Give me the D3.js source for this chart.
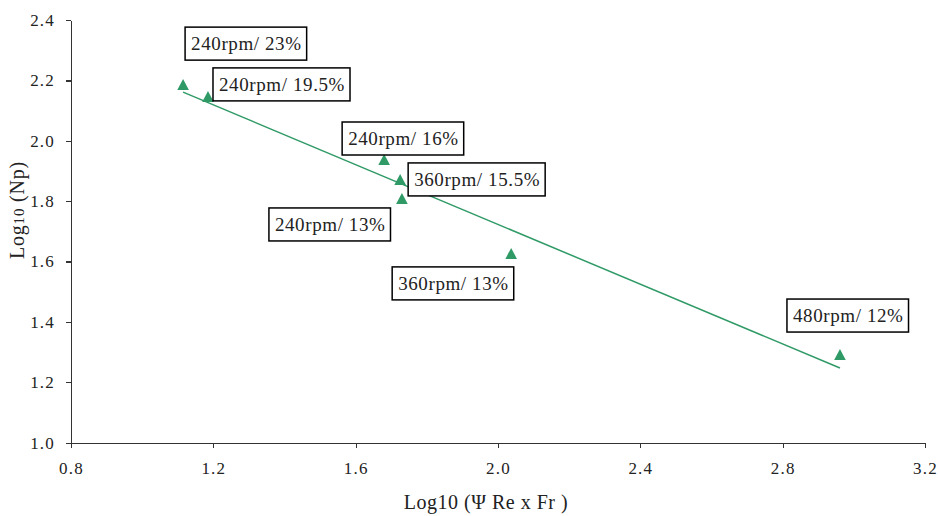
<!DOCTYPE html>
<meta charset="utf-8">
<style>
body { margin: 0; background: #fff; }
svg { font-family: "Liberation Serif", "Times New Roman", serif; }
.axis path, .axis line { fill: none; stroke: #333; stroke-width: 1.3; shape-rendering: crispEdges; }
.axis text { font-size: 17px; letter-spacing: 1.2px; fill: #222; font-family: "Liberation Serif", serif; }
.lbl rect { fill: #fff; stroke: #000; stroke-width: 1.5; }
.lbl text { font-size: 19px; letter-spacing: 0.6px; fill: #222; }
.title { font-size: 20px; fill: #222; }
</style>
<svg width="938" height="516"></svg>
<script src="https://cdnjs.cloudflare.com/ajax/libs/d3/7.8.5/d3.min.js"></script>
<script>

// values
var logPsiReFr = [1.115, 1.185, 1.680, 1.725, 1.730, 2.037, 2.961];
var logNp      = [2.181, 2.142, 1.933, 1.867, 1.804, 1.622, 1.287];
var labels     = ["240rpm/ 23%", "240rpm/ 19.5%", "240rpm/ 16%", "360rpm/ 15.5%",
                  "240rpm/ 13%", "360rpm/ 13%", "480rpm/ 12%"];
var xTicks = [0.8, 1.2, 1.6, 2.0, 2.4, 2.8, 3.2];
var yTicks = [1.0, 1.2, 1.4, 1.6, 1.8, 2.0, 2.2, 2.4];

// where each label box sits relative to its point (px, top-left corner)
var labelOffsets = [[2, -59], [5, -30], [-42, -39], [8, -18], [-133, 8], [-119, 12], [-53, -57]];

var svg = d3.select("svg");
var green = "#2f9a66";

var x = d3.scaleLinear().domain([0.8, 3.2]).range([71, 925]);
var y = d3.scaleLinear().domain([1.0, 2.4]).range([442.7, 20]);

var data = logPsiReFr.map(function(v, i) {
  return {x: v, y: logNp[i], label: labels[i], off: labelOffsets[i]};
});

svg.append("g")
    .attr("class", "axis")
    .attr("transform", "translate(0,442.7)")
    .call(d3.axisBottom(x).tickValues(xTicks).tickFormat(d3.format(".1f"))
      .tickSizeInner(5).tickSizeOuter(0).tickPadding(14));

svg.append("g")
    .attr("class", "axis")
    .attr("transform", "translate(71,0)")
    .call(d3.axisLeft(y).tickValues(yTicks).tickFormat(d3.format(".1f"))
      .tickSizeInner(5).tickSizeOuter(0).tickPadding(11));

// least squares trend line
var mx = d3.mean(data, function(d) { return d.x; }),
    my = d3.mean(data, function(d) { return d.y; });
var slope = d3.sum(data, function(d) { return (d.x - mx) * (d.y - my); }) /
            d3.sum(data, function(d) { return (d.x - mx) * (d.x - mx); });
var ext = d3.extent(data, function(d) { return d.x; });
var fit = ext.map(function(v) { return {x: v, y: my + slope * (v - mx)}; });

svg.append("path")
    .datum(fit)
    .attr("fill", "none")
    .attr("stroke", green)
    .attr("stroke-width", 1.5)
    .attr("d", d3.line().x(function(d) { return x(d.x); }).y(function(d) { return y(d.y); }));

svg.selectAll(".pt")
  .data(data)
  .enter().append("path")
    .attr("class", "pt")
    .attr("fill", green)
    .attr("transform", function(d) { return "translate(" + x(d.x) + "," + y(d.y) + ")"; })
    .attr("d", "M0,-7L5.8,4L-5.8,4Z");

var lbl = svg.selectAll(".lbl")
  .data(data)
  .enter().append("g")
    .attr("class", "lbl")
    .attr("transform", function(d) {
      return "translate(" + (x(d.x) + d.off[0]) + "," + (y(d.y) + d.off[1]) + ")";
    });

lbl.append("rect").attr("height", 33);
lbl.append("text")
    .attr("x", 6)
    .attr("y", 23)
    .text(function(d) { return d.label; });
lbl.each(function() {
  var g = d3.select(this);
  var w = g.select("text").node().getComputedTextLength();
  g.select("rect").attr("width", w + 11);
});

svg.append("text")
    .attr("class", "title")
    .attr("x", 486)
    .attr("y", 509)
    .attr("text-anchor", "middle")
    .attr("letter-spacing", "0.5px")
    .text("Log10 (\u03A8 Re x Fr )");

var yt = svg.append("text")
    .attr("class", "title")
    .attr("transform", "translate(24,210) rotate(-90)")
    .attr("text-anchor", "middle")
    .attr("letter-spacing", "0.8px");
yt.append("tspan").text("Log");
yt.append("tspan").attr("font-size", "15px").text("10");
yt.append("tspan").text(" (Np)");

</script>
